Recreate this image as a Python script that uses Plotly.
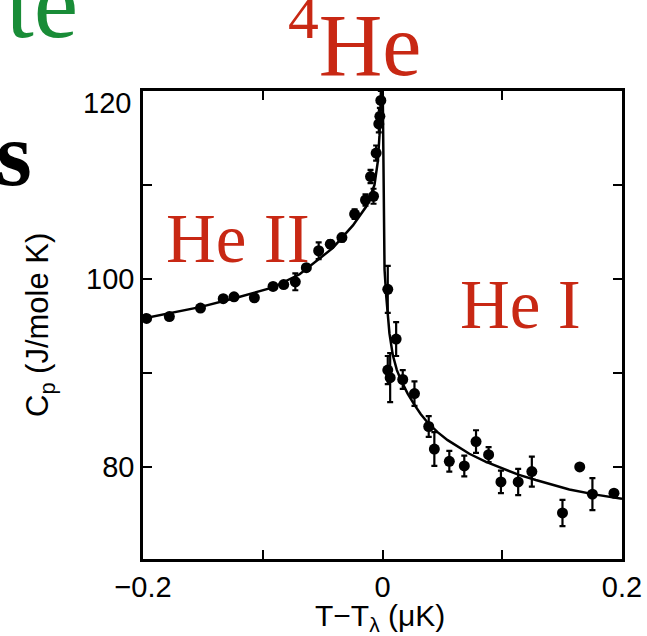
import plotly.graph_objects as go

# Heat capacity of 4He near the lambda point
# Superfluid side (He II), T < T_lambda
he2_t = [-0.197, -0.178, -0.152, -0.133, -0.124, -0.107, -0.0914, -0.0825, -0.0728,
         -0.0636, -0.0533, -0.0436, -0.0339, -0.0233, -0.0142, -0.0075, -0.0100,
         -0.0053, -0.0031, -0.0022, -0.0014]
he2_cp = [95.8, 96.0, 96.9, 97.9, 98.1, 98.0, 99.2, 99.4, 99.7,
          101.2, 103.0, 103.7, 104.4, 106.9, 108.4, 108.8, 110.9,
          113.4, 116.5, 117.3, 119.0]
he2_err = [0.3, 0.3, 0.3, 0.3, 0.3, 0.3, 0.3, 0.3, 0.9,
           0.3, 0.9, 0.4, 0.4, 0.5, 0.6, 0.8, 0.7,
           0.8, 0.9, 0.9, 1.0]

# Normal-fluid side (He I), T > T_lambda
he1_t = [0.0044, 0.0114, 0.0044, 0.0064, 0.0169, 0.0267, 0.0386, 0.0433, 0.0558,
         0.0683, 0.0781, 0.0886, 0.0989, 0.1133, 0.1247, 0.1503, 0.1647, 0.1753, 0.1933]
he1_cp = [98.9, 93.6, 90.3, 89.5, 89.3, 87.8, 84.3, 81.9, 80.6,
          80.1, 82.7, 81.3, 78.4, 78.4, 79.5, 75.1, 80.0, 77.1, 77.2]
he1_err = [2.5, 1.8, 1.5, 2.6, 1.0, 1.3, 1.1, 1.8, 1.1,
           1.1, 1.2, 0.8, 1.2, 1.4, 1.6, 1.4, 0.0, 1.7, 0.3]

# Fitted curves on each side of the transition
fit2_t = [-0.2, -0.1525, -0.122, -0.0914, -0.0692, -0.0414, -0.0247, -0.0136,
          -0.0067, -0.0039, -0.0025, -0.0017, -0.0011]
fit2_cp = [95.8, 97.0, 98.0, 99.1, 100.5, 103.3, 105.7, 107.7,
           110.0, 112.5, 115.3, 118.5, 120.0]
fit1_t = [0.0002, 0.0008, 0.0017, 0.0031, 0.0045, 0.0058, 0.0086, 0.0120, 0.0156,
          0.0210, 0.0267, 0.0320, 0.0378, 0.0460, 0.0544, 0.0635, 0.0725, 0.0860,
          0.1003, 0.114, 0.128, 0.142, 0.156, 0.178, 0.2]
fit1_cp = [120.0, 108.0, 101.0, 98.2, 95.9, 94.2, 91.9, 90.3, 89.2,
           87.8, 86.6, 85.6, 84.7, 83.7, 82.85, 82.1, 81.4, 80.55,
           79.8, 79.15, 78.6, 78.1, 77.6, 77.05, 76.6]

x_ticks = [-0.2, -0.1, 0.0, 0.1, 0.2]
x_ticktext = ["\u22120.2", "", "0", "", "0.2"]
y_ticks = [80, 90, 100, 110, 120]
y_ticktext = ["80", "", "100", "", ""]

# page geometry (pixels)
W, H = 647, 636
L, R, T, B = 143, 622, 91, 559


def px(x):
    return (x - L) / (R - L)


def py(y):
    return (B - y) / (B - T)


fig = go.Figure()
for ft, fc in ((fit2_t, fit2_cp), (fit1_t, fit1_cp)):
    fig.add_trace(go.Scatter(x=ft, y=fc, mode="lines",
                             line=dict(color="black", width=2.5),
                             hoverinfo="skip", showlegend=False))
for dt, dc, de in ((he2_t, he2_cp, he2_err), (he1_t, he1_cp, he1_err)):
    fig.add_trace(go.Scatter(
        x=dt, y=dc, mode="markers",
        marker=dict(color="black", size=11),
        error_y=dict(type="data", array=de, color="black", thickness=2.2, width=3),
        showlegend=False))

axis_common = dict(showgrid=False, zeroline=False, showline=True, linecolor="black",
                   linewidth=2.5, mirror="ticks", ticks="inside", ticklen=9,
                   tickwidth=2, tickcolor="black", automargin=False,
                   tickfont=dict(family="Liberation Sans", size=29, color="black"))

fig.update_layout(
    width=W, height=H,
    margin=dict(l=L, r=W - R, t=T, b=H - B, autoexpand=False),
    paper_bgcolor="white", plot_bgcolor="white",
    xaxis=dict(range=[-0.2, 0.2], tickvals=x_ticks, ticktext=x_ticktext, **axis_common),
    yaxis=dict(range=[70.2, 120], tickvals=y_ticks, ticktext=y_ticktext, **axis_common),
)

serif = "Liberation Serif"
red = "rgb(200,40,20)"
annots = [
    # top y label drawn slightly below its tick
    dict(x=px(133), y=120, yref="y", text="120", xanchor="right", yanchor="middle",
         yshift=-12, font=dict(family="Liberation Sans", size=29, color="black")),
    dict(x=px(40), y=py(325), text="C<sub>p</sub> (J/mole K)", textangle=-90,
         xanchor="center", yanchor="middle",
         font=dict(family="Liberation Sans", size=31, color="black")),
    dict(x=px(380), y=py(597), text="T\u2212T<sub>\u03bb</sub> (\u03bcK)",
         xanchor="center", yanchor="top",
         font=dict(family="Liberation Sans", size=30, color="black")),
    dict(x=px(354), y=py(39), text="<sup>4</sup>He", xanchor="center", yanchor="middle",
         font=dict(family=serif, size=88, color=red)),
    dict(x=px(238), y=py(239), text="He II", xanchor="center", yanchor="middle",
         font=dict(family=serif, size=69, color=red)),
    dict(x=px(520), y=py(305), text="He I", xanchor="center", yanchor="middle",
         font=dict(family=serif, size=69, color=red)),
    dict(x=px(80), y=py(3), text="te", xanchor="right", yanchor="middle",
         font=dict(family=serif, size=100, color="rgb(25,140,55)")),
    dict(x=px(34), y=py(154), text="<b>s</b>", xanchor="right", yanchor="middle",
         font=dict(family=serif, size=92, color="black")),
]
for a in annots:
    a.setdefault("xref", "paper")
    a.setdefault("yref", "paper")
    fig.add_annotation(showarrow=False, **a)

fig.write_html("out.html")
